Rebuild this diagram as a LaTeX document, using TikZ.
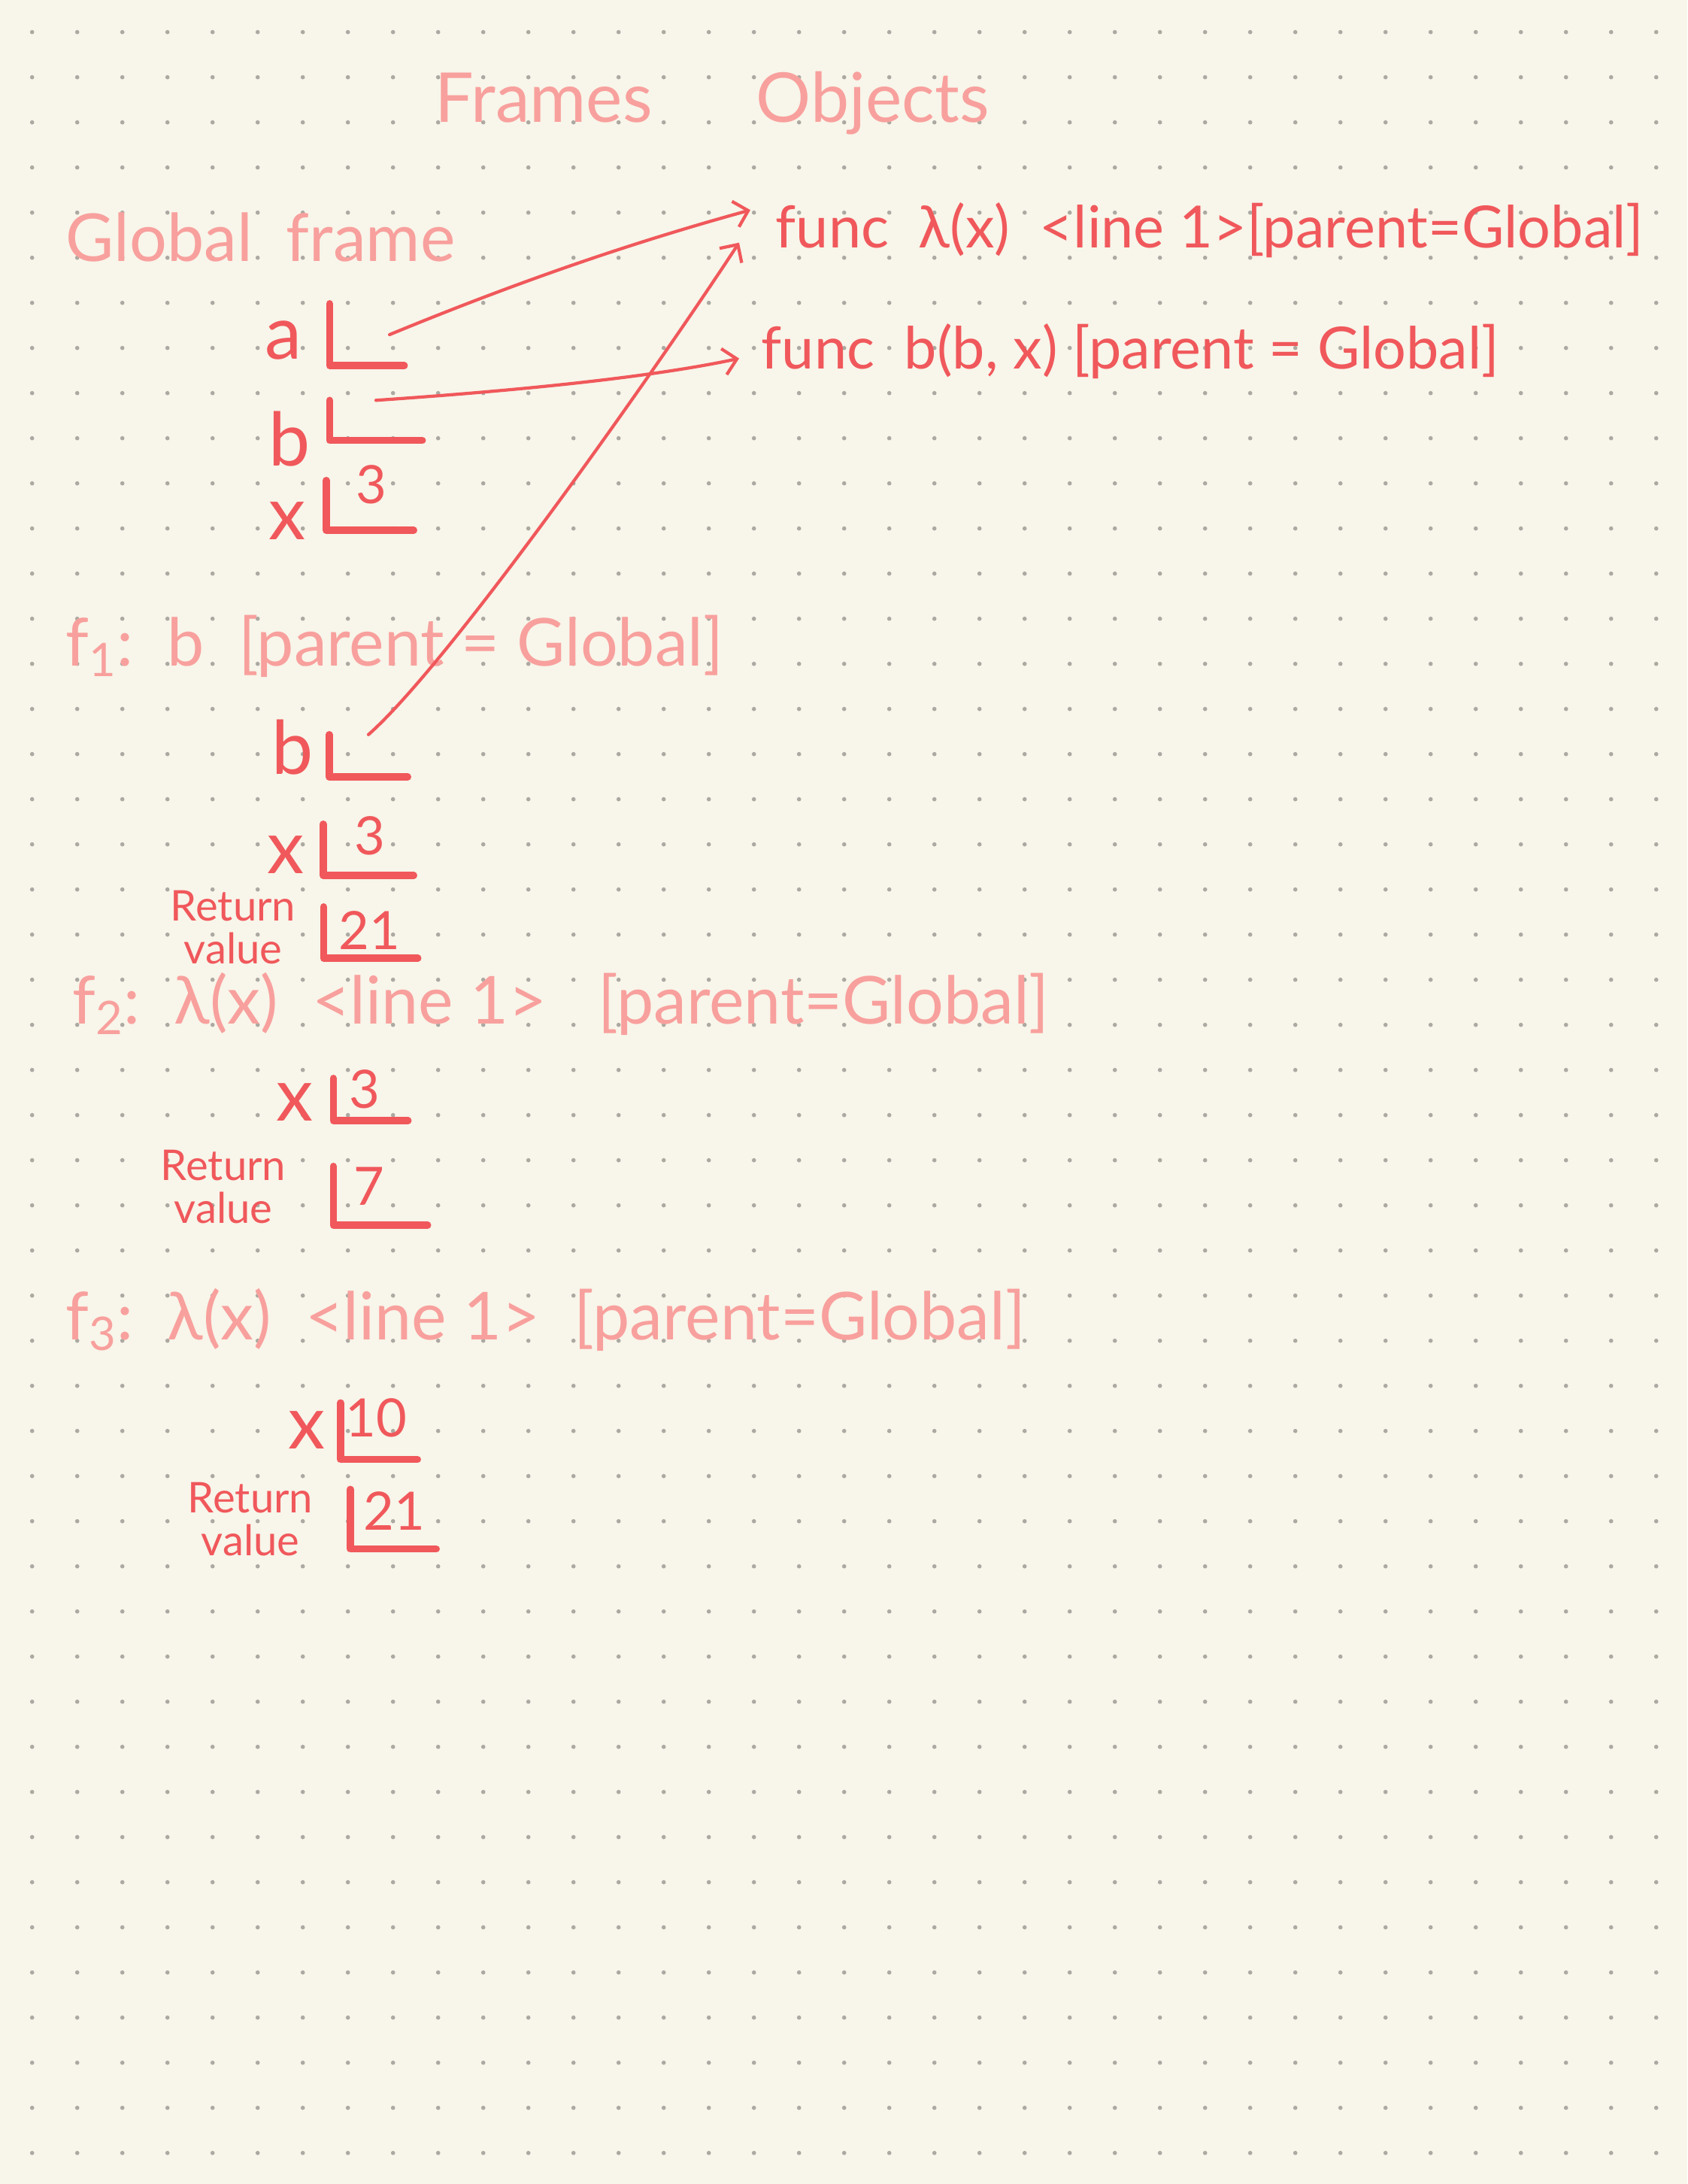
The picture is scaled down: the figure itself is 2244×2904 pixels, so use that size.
\documentclass[tikz,border=0pt]{standalone}
\usepackage{fontspec}
\setmainfont{Lato}
\usepackage{tikz}
\usetikzlibrary{
    arrows.meta
}
\usepackage{xcolor}
\definecolor{paper}{HTML}{F8F5EA}
\definecolor{dotgray}{HTML}{ABA9A2}
\definecolor{inkred}{HTML}{F0585B}
\definecolor{inkpink}{HTML}{F8A09D}

\begin{document}
\begin{tikzpicture}[
        x=0.01cm, y=-0.01cm,
        title/.style={
            anchor=base west,
            inner sep=0pt,
            text=inkpink,
            font=\fontsize{26}{32}\selectfont
        },
        heading/.style={
            anchor=base west,
            inner sep=0pt,
            text=inkpink,
            font=\fontsize{25}{30}\selectfont
        },
        object/.style={
            anchor=base west,
            text=inkred,
            inner sep=2pt,
            font=\fontsize{22}{26}\selectfont
        },
        var/.style={
            anchor=base west,
            inner sep=0pt,
            text=inkred,
            font=\fontsize{28}{32}\selectfont
        },
        val/.style={
            text=inkred,
            inner sep=0pt,
            font=\fontsize{20}{24}\selectfont
        },
        retlabel/.style={
            text=inkred,
            align=center,
            font=\fontsize{16}{16}\selectfont
        },
        slot/.style={
            inner sep=0pt,
            minimum width=1.1cm,
            minimum height=0.65cm
        },
        slotline/.style={
            draw=inkred,
            line width=2.7pt,
            line cap=round,
            line join=round
        },
        pointer/.style={
            draw=inkred,
            line width=1.2pt,
            line cap=round,
            -{Straight Barb[length=5pt,width=10pt]}
        }
    ]
        \fill[paper] (0,0) rectangle (2244,2904);
        \useasboundingbox (0,0) rectangle (2244,2904);
        \foreach \i in {0,...,36}
            \foreach \j in {0,...,47}
                \fill[dotgray] (42.7+60*\i, 42.7+60*\j) circle[radius=0.8pt];

        \node[title] (frames) at (578,163) {Frames};
        \node[title] (objects) at (1005,163) {Objects};

        \node[object] (lam) at (1024,330) {func\ \ λ(x)\ \ <line 1>[parent=Global]};
        \node[object] (bfun) at (1005,491) {func\ \ b(b, x)\ [parent = Global]};

        % global frame
        \node[heading] (glob) at (87,348) {Global\ \ frame};
        \node[var] (ga-name) at (352,478) {a};
        \node[slot, minimum width=0.98cm, minimum height=0.81cm] (ga) at (488,445) {};
        \node[var] (gb-name) at (357,620) {b};
        \node[slot, minimum width=1.22cm, minimum height=0.52cm] (gb) at (500,559) {};
        \node[var] (gx-name) at (357,718) {x};
        \node[slot, minimum width=1.15cm] (gx) at (492,672) {};
        \node[val] (gx-val) at (494,644) {3};

        % f1
        \node[heading] (f1) at (87,885) {f\textsubscript{1}:\ \ b\ \ [parent = Global]};
        \node[var] (fb-name) at (361,1029) {b};
        \node[slot, minimum width=1.03cm, minimum height=0.55cm] (fb) at (490,1005) {};
        \node[var] (fx-name) at (355,1161) {x};
        \node[slot, minimum width=1.19cm, minimum height=0.67cm] (fx) at (490,1130) {};
        \node[val] (fx-val) at (492,1111) {3};
        \node[retlabel] (frv-name) at (310,1233) {Return\\value};
        \node[slot, minimum width=1.24cm, minimum height=0.67cm] (frv) at (493,1240) {};
        \node[val] (frv-val) at (491,1237) {21};

        % f2
        \node[heading] (f2) at (96,1361) {f\textsubscript{2}:\ \ λ(x)\ \ <line 1>\ \ \ [parent=Global]};
        \node[var] (tx-name) at (367,1490) {x};
        \node[slot, minimum width=0.98cm, minimum height=0.55cm] (tx) at (493,1462) {};
        \node[val] (tx-val) at (485,1448) {3};
        \node[retlabel] (trv-name) at (297,1578) {Return\\value};
        \node[slot, minimum width=1.24cm, minimum height=0.77cm] (trv) at (506,1590) {};
        \node[val] (trv-val) at (491,1577) {7};

        % f3
        \node[heading] (f3) at (87,1781) {f\textsubscript{3}:\ \ λ(x)\ \ <line 1>\ \ [parent=Global]};
        \node[var] (hx-name) at (383,1926) {x};
        \node[slot, minimum width=1.01cm, minimum height=0.74cm] (hx) at (504,1903) {};
        \node[val] (hx-val) at (500,1885) {10};
        \node[retlabel] (hrv-name) at (333,2020) {Return\\value};
        \node[slot, minimum width=1.13cm, minimum height=0.78cm] (hrv) at (523,2020) {};
        \node[val] (hrv-val) at (524,2009) {21};

        \foreach \s in {ga,gb,gx,fb,fx,frv,tx,trv,hx,hrv}
            \draw[slotline] (\s.north west) |- (\s.south east);

        \draw[pointer] ([xshift=0.3cm]ga.center)
            .. controls (700,370) and (850,320) ..
            ([xshift=-0.26cm,yshift=-0.17cm]lam.north west);
        \draw[pointer] (gb.north)
            .. controls (650,522) and (850,505) ..
            ([xshift=-0.22cm,yshift=-0.09cm]bfun.west);
        \draw[pointer] (fb.north)
            .. controls (600,880) and (880,480) ..
            ([xshift=-0.41cm,yshift=-0.16cm]lam.west);
    \end{tikzpicture}
\end{document}
